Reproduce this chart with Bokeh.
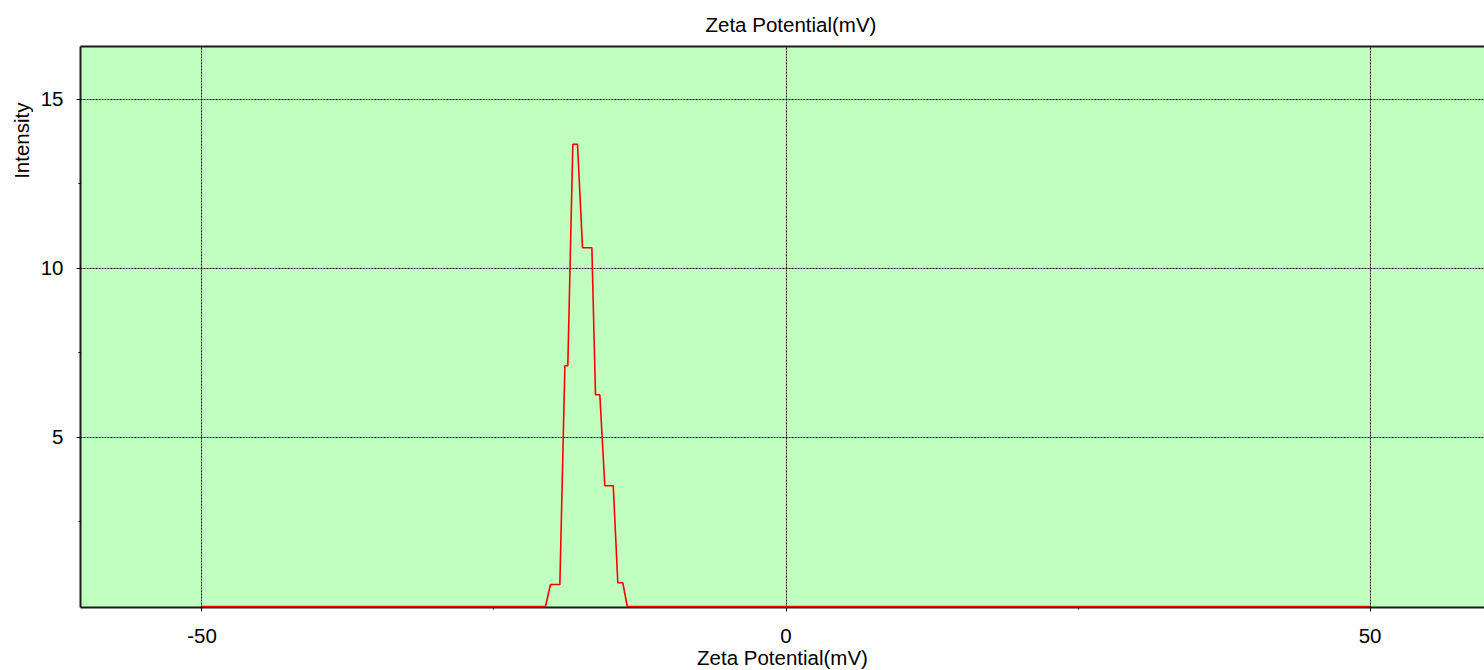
from bokeh.plotting import figure
from bokeh.models import Range1d, LinearAxis, FixedTicker, Title, PrintfTickFormatter
from bokeh.embed import file_html
from bokeh.resources import INLINE

# data
zeta = [-50, -20.59, -20.16, -19.36, -18.93, -18.68, -18.25, -17.85, -17.42,
        -16.62, -16.31, -15.94, -15.51, -14.79, -14.40, -13.97, -13.59, 50]
intensity = [0, 0, 0.65, 0.65, 7.12, 7.12, 13.67, 13.67, 10.61,
             10.61, 6.26, 6.26, 3.57, 3.57, 0.70, 0.70, 0, 0]
x_major = [-50, 0, 50]
x_minor = [-25, 25]
y_major = [5, 10, 15]
y_minor = [2.5, 7.5, 12.5]
title_text = "Zeta Potential(mV)"
x_label = "Zeta Potential(mV)"
y_label = "Intensity"

FONT = "Liberation Sans"
FS = "20.5px"
FH = 561

p = figure(frame_width=1404, frame_height=FH, title=None,
           x_range=Range1d(-60.4, 59.8), y_range=Range1d(-0.03, 16.56),
           output_backend="svg", toolbar_location=None,
           min_border_left=80, min_border_right=0, min_border_top=46,
           min_border_bottom=63,
           background_fill_color="#C0FFC0", border_fill_color="white",
           outline_line_color=None)

# axes
p.xaxis.ticker = FixedTicker(ticks=x_major, minor_ticks=x_minor)
p.yaxis.ticker = FixedTicker(ticks=y_major, minor_ticks=y_minor)
p.xaxis.formatter = PrintfTickFormatter(format="%d")
p.yaxis.formatter = PrintfTickFormatter(format="%d")
for ax in (p.xaxis[0], p.yaxis[0]):
    ax.axis_line_color = "#1a1a1a"
    ax.axis_line_width = 2
    ax.major_tick_in = 0
    ax.major_tick_out = 4
    ax.minor_tick_in = 0
    ax.minor_tick_out = 2
    ax.major_tick_line_color = "black"
    ax.minor_tick_line_color = "black"
    ax.major_label_text_font = FONT
    ax.major_label_text_font_size = FS
    ax.major_label_text_color = "black"
p.xaxis.major_label_standoff = 17
p.yaxis.major_label_standoff = 13
p.xaxis.axis_label = x_label
p.xaxis.axis_label_text_font = FONT
p.xaxis.axis_label_text_font_size = FS
p.xaxis.axis_label_text_font_style = "normal"
p.xaxis.axis_label_text_color = "black"
p.xaxis.axis_label_standoff = 0

# top border line
top_axis = LinearAxis(ticker=FixedTicker(ticks=[]), axis_line_color="#1a1a1a",
                      axis_line_width=2, major_label_text_font_size="0px",
                      major_tick_out=0, major_tick_in=0,
                      major_tick_line_color=None, minor_tick_line_color=None)
p.add_layout(top_axis, "above")

p.add_layout(Title(text=title_text, align="left", offset=625, standoff=21,
                   text_font=FONT, text_font_size=FS, text_font_style="normal",
                   text_color="black"), "above")

p.add_layout(Title(text=y_label, align="right", offset=56, standoff=10,
                   text_font=FONT, text_font_size=FS, text_font_style="normal",
                   text_color="black"), "left")

# grid
p.xgrid.ticker = FixedTicker(ticks=x_major)
p.ygrid.ticker = FixedTicker(ticks=y_major)
for g in (p.xgrid[0], p.ygrid[0]):
    g.grid_line_color = "black"
    g.grid_line_dash = "2 1"
    g.grid_line_width = 1

p.line(zeta, intensity, line_color="#FF0000", line_width=1.6, level="overlay")

open("out.html", "w").write(file_html(p, INLINE))
